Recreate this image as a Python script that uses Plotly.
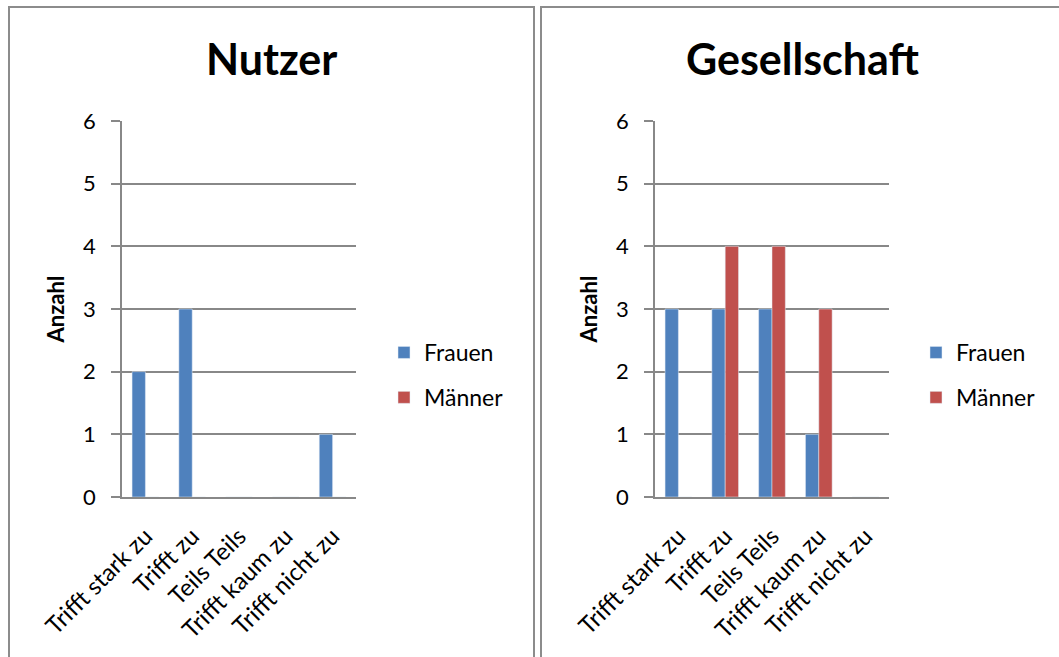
import plotly.graph_objects as go

# Kategorien und Antwortzahlen
categories = ["Trifft stark zu", "Trifft zu", "Teils Teils", "Trifft kaum zu", "Trifft nicht zu"]
nutzer_frauen = [2, 3, 0, 0, 1]
nutzer_maenner = [0, 0, 0, 0, 0]
gesellschaft_frauen = [3, 3, 3, 1, 0]
gesellschaft_maenner = [0, 4, 4, 3, 0]
y_ticks = [0, 1, 2, 3, 4, 5, 6]

W, H = 1059, 657
BLUE = "#4F81BD"
RED = "#C0504D"
GRID = "#888888"
FONT = "Lato"


def px(x):
    return x / W


def py(y):
    return 1 - y / H


fig = go.Figure()

fig.add_trace(go.Bar(x=categories, y=nutzer_frauen, name="Frauen", marker_color=BLUE,
                     xaxis="x", yaxis="y", legend="legend", legendgroup="a1"))
fig.add_trace(go.Bar(x=categories, y=nutzer_maenner, name="Männer", marker_color=RED,
                     xaxis="x", yaxis="y", legend="legend", legendgroup="a2"))
fig.add_trace(go.Bar(x=categories, y=gesellschaft_frauen, name="Frauen", marker_color=BLUE,
                     xaxis="x2", yaxis="y2", legend="legend2", legendgroup="b1"))
fig.add_trace(go.Bar(x=categories, y=gesellschaft_maenner, name="Männer", marker_color=RED,
                     xaxis="x2", yaxis="y2", legend="legend2", legendgroup="b2"))

xaxis_style = dict(
    type="category", tickangle=-45, showgrid=False, zeroline=False,
    showline=True, linecolor=GRID, linewidth=1.5, ticks="", automargin=False,
    tickfont=dict(family=FONT, size=24, color="black"), ticklabelstandoff=14,
    fixedrange=True,
)
yaxis_style = dict(
    range=[0, 6], tickvals=y_ticks, showgrid=True, gridcolor=GRID, gridwidth=1.5,
    zeroline=False, showline=True, linecolor=GRID, linewidth=1.5, automargin=False,
    ticks="outside", ticklen=9, tickcolor=GRID, tickwidth=1.5,
    tickfont=dict(family=FONT, size=22, color="black"), ticklabelstandoff=11,
    title=dict(text="<b>Anzahl</b>", font=dict(family=FONT, size=22, color="black"), standoff=12),
)

legend_style = dict(
    font=dict(family=FONT, size=23, color="black"), bgcolor="rgba(0,0,0,0)",
    tracegroupgap=12, itemwidth=30, xanchor="left", yanchor="top",
)

fig.update_layout(
    width=W, height=H,
    margin=dict(l=0, r=0, t=0, b=0, autoexpand=False),
    paper_bgcolor="white", plot_bgcolor="white",
    barmode="group", bargap=0.43, bargroupgap=0,
    xaxis=dict(domain=[px(122), px(356)], anchor="y", **xaxis_style),
    yaxis=dict(domain=[py(497), py(121)], anchor="x", **yaxis_style),
    xaxis2=dict(domain=[px(655), px(889)], anchor="y2", **xaxis_style),
    yaxis2=dict(domain=[py(497), py(121)], anchor="x2", **yaxis_style),
    legend=dict(x=px(384), y=py(331), **legend_style),
    legend2=dict(x=px(916), y=py(331), **legend_style),
    showlegend=True,
    shapes=[
        dict(type="rect", xref="paper", yref="paper", x0=px(9), x1=px(534), y0=-0.1, y1=py(7),
             line=dict(color="#8C8C8C", width=2), layer="below"),
        dict(type="rect", xref="paper", yref="paper", x0=px(541), x1=px(1080), y0=-0.1, y1=py(7),
             line=dict(color="#8C8C8C", width=2), layer="below"),
    ],
    annotations=[
        dict(text="<b>Nutzer</b>", xref="paper", yref="paper", x=px(271), y=py(59),
             showarrow=False, font=dict(family=FONT, size=43, color="black"),
             xanchor="center", yanchor="middle"),
        dict(text="<b>Gesellschaft</b>", xref="paper", yref="paper", x=px(802), y=py(59),
             showarrow=False, font=dict(family=FONT, size=43, color="black"),
             xanchor="center", yanchor="middle"),
    ],
)

fig.write_html("out.html")
